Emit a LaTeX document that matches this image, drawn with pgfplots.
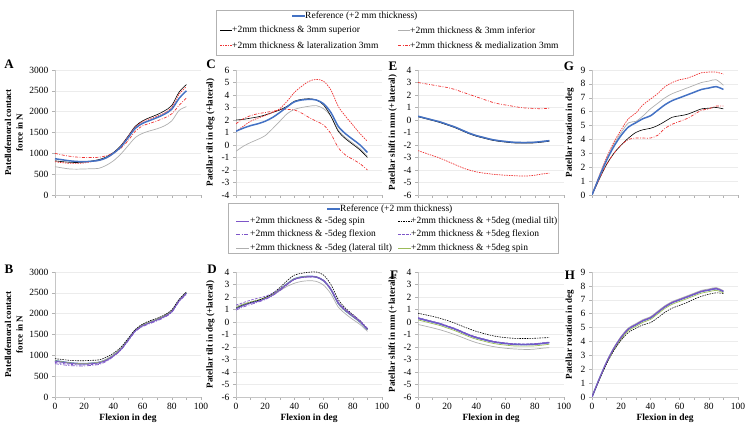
\documentclass[border=0pt]{standalone}
\usepackage{fontspec}
\setmainfont{Liberation Serif}
\usepackage{pgfplots}
\pgfplotsset{compat=1.18}
\usepackage{pgfplotstable}

\definecolor{refblue}{RGB}{68,114,196}
\definecolor{lgrey}{RGB}{175,175,175}
\definecolor{myred}{RGB}{238,50,50}
\definecolor{myviolet}{RGB}{125,85,200}
\definecolor{mygreen}{RGB}{155,187,89}

\tikzset{
  refst/.style={refblue, line width=1.5pt},
  supst/.style={black, line width=0.6pt},
  infst/.style={lgrey, line width=0.7pt},
  latst/.style={myred, line width=0.7pt, dash pattern=on 1.5pt off 1pt},
  medst/.style={myred, line width=0.7pt, dash pattern=on 3pt off 1.5pt on 0.8pt off 1.5pt},
  spmst/.style={myviolet, line width=0.7pt},
  mtst/.style={black, line width=0.6pt, dash pattern=on 1.5pt off 1pt},
  fmst/.style={myviolet, line width=0.7pt, dash pattern=on 4pt off 1.5pt on 1pt off 1.5pt},
  fpst/.style={myviolet, line width=0.7pt, dash pattern=on 2.5pt off 1.5pt},
  ltst/.style={lgrey, line width=0.7pt},
  sppst/.style={mygreen, line width=0.7pt},
}

\pgfplotsset{
  panel/.style={
    width=146pt, height=125pt, scale only axis, anchor=south west,
    xmin=0, xmax=100, xtick={0,20,...,100}, minor x tick num=1,
    axis lines=left, axis line style={-, draw=gray!45},
    tick style={gray!60, thin}, tick align=outside,
    major tick length=3pt, minor tick length=3pt,
    ymajorgrids, grid style={gray!15},
    ticklabel style={font=\fontsize{9.5}{10}\selectfont},
    /pgf/number format/assume math mode=true,
    /pgf/number format/1000 sep={},
    ylabel style={font=\bfseries\fontsize{9}{11.5}\selectfont, align=center},
    xlabel style={font=\bfseries\fontsize{9.5}{11}\selectfont, yshift=3pt},
    every axis plot/.append style={smooth, tension=0.5},
  },
  toprow/.style={xticklabels={}},
  botrow/.style={xlabel={Flexion in deg}},
}

\pgfplotstableread{
x ref sup inf lat med
0 870 820 680 800 1000
5 845 800 650 775 960
10 820 785 625 760 930
15 805 780 620 760 910
20 800 790 625 770 900
25 810 815 630 800 900
30 830 850 640 830 905
35 890 910 710 880 940
40 1000 1020 820 1000 1010
45 1150 1180 980 1170 1120
50 1370 1410 1180 1400 1300
55 1600 1650 1380 1630 1530
60 1720 1780 1480 1760 1660
65 1790 1860 1540 1830 1720
70 1860 1930 1590 1890 1780
75 1940 2020 1660 1970 1850
80 2060 2150 1780 2100 1950
85 2320 2470 2030 2420 2150
90 2500 2650 2120 2600 2330
}\tabA

\pgfplotstableread{
x ref sup inf lat med
0 1.1 2.0 -0.5 1.1 1.7
5 1.35 2.05 -0.1 1.5 2.1
10 1.55 2.15 0.2 1.9 2.35
15 1.7 2.25 0.45 2.15 2.5
20 1.9 2.4 0.75 2.35 2.6
25 2.2 2.6 1.3 2.6 2.7
30 2.6 2.8 1.9 2.9 2.8
35 3.05 3.1 2.5 3.5 2.85
40 3.45 3.5 2.85 4.2 2.8
45 3.6 3.65 3.0 4.7 2.55
50 3.65 3.7 3.1 5.1 2.2
55 3.6 3.6 3.15 5.25 1.9
60 3.3 3.2 2.9 5.1 1.6
65 2.6 2.3 2.3 4.4 0.9
70 1.5 1.1 1.2 3.1 -0.2
75 0.9 0.5 0.6 2.3 -0.8
80 0.45 0.05 0.15 1.6 -1.15
85 0.0 -0.4 -0.3 0.9 -1.5
90 -0.6 -1.0 -0.9 0.3 -2.0
}\tabC

\pgfplotstableread{
x ref sup inf lat med
0 0.3 0.26 0.32 -2.45 3.0
5 0.15 0.11 0.17 -2.65 2.9
10 0.0 -0.04 0.02 -2.85 2.8
15 -0.15 -0.2 -0.13 -3.05 2.7
20 -0.35 -0.4 -0.33 -3.3 2.6
25 -0.55 -0.6 -0.53 -3.55 2.45
30 -0.8 -0.85 -0.78 -3.8 2.25
35 -1.05 -1.1 -1.03 -4.0 2.05
40 -1.25 -1.3 -1.23 -4.15 1.85
45 -1.4 -1.45 -1.38 -4.25 1.65
50 -1.55 -1.6 -1.53 -4.32 1.45
55 -1.65 -1.7 -1.63 -4.38 1.3
60 -1.72 -1.77 -1.7 -4.42 1.2
65 -1.78 -1.83 -1.76 -4.45 1.1
70 -1.8 -1.85 -1.78 -4.48 1.0
75 -1.8 -1.85 -1.78 -4.48 0.95
80 -1.78 -1.83 -1.76 -4.42 0.92
85 -1.72 -1.77 -1.7 -4.32 0.9
90 -1.65 -1.7 -1.63 -4.25 0.95
}\tabE

\pgfplotstableread{
x ref sup inf lat med
0 0 0 0 0 0
5 1.3 1.15 1.35 1.4 1.15
10 2.5 2.2 2.6 2.7 2.2
15 3.5 3.0 3.65 3.8 3.0
20 4.3 3.6 4.5 4.7 3.6
25 4.9 4.1 5.2 5.5 4.0
30 5.2 4.5 5.3 5.9 4.1
35 5.5 4.7 5.7 6.5 4.1
40 5.7 4.8 6.2 6.9 4.1
45 6.1 5.0 6.6 7.3 4.3
50 6.5 5.3 7.0 7.8 4.8
55 6.8 5.6 7.3 8.1 5.1
60 7.0 5.7 7.5 8.3 5.3
65 7.2 5.8 7.7 8.4 5.5
70 7.4 6.0 7.9 8.6 5.8
75 7.6 6.2 8.1 8.8 6.1
80 7.7 6.25 8.2 8.85 6.2
85 7.8 6.3 8.3 8.85 6.4
90 7.6 6.2 7.9 8.7 6.4
}\tabG

\pgfplotstableread{
x ref sm5 mt fm5 fp5 lt sp5
0 870 860 920 800 830 860 870
5 845 835 900 775 805 835 845
10 820 810 880 755 785 815 820
15 805 795 870 745 770 800 805
20 800 790 870 745 770 800 800
25 810 800 880 760 780 810 810
30 830 820 890 780 800 835 830
35 890 880 950 850 870 900 890
40 1000 990 1050 970 980 1010 1000
45 1150 1140 1190 1120 1130 1160 1150
50 1370 1360 1400 1340 1350 1380 1370
55 1600 1590 1620 1570 1590 1610 1600
60 1720 1710 1750 1690 1710 1740 1720
65 1790 1780 1830 1760 1780 1810 1790
70 1860 1850 1890 1830 1850 1880 1860
75 1940 1930 1970 1910 1930 1960 1940
80 2060 2050 2090 2030 2050 2080 2060
85 2320 2310 2340 2290 2310 2340 2320
90 2500 2490 2520 2460 2490 2520 2500
}\tabB

\pgfplotstableread{
x ref sm5 mt fm5 fp5 lt sp5
0 1.1 1.05 1.1 0.95 1.35 1.25 1.15
5 1.35 1.3 1.35 1.2 1.55 1.45 1.4
10 1.55 1.5 1.55 1.4 1.75 1.6 1.6
15 1.7 1.65 1.72 1.58 1.9 1.75 1.75
20 1.9 1.85 1.95 1.8 2.05 1.9 1.95
25 2.2 2.15 2.28 2.1 2.3 2.15 2.22
30 2.6 2.55 2.75 2.5 2.65 2.5 2.6
35 3.05 3.0 3.3 2.98 3.05 2.85 3.05
40 3.45 3.42 3.75 3.4 3.4 3.1 3.45
45 3.6 3.58 3.9 3.55 3.55 3.25 3.6
50 3.65 3.63 3.98 3.6 3.6 3.3 3.65
55 3.6 3.6 4.0 3.6 3.58 3.25 3.6
60 3.3 3.3 3.75 3.35 3.3 2.95 3.3
65 2.6 2.6 3.0 2.65 2.6 2.25 2.6
70 1.5 1.55 1.8 1.6 1.5 1.2 1.5
75 0.9 0.95 1.1 1.0 0.9 0.65 0.9
80 0.45 0.5 0.6 0.55 0.45 0.2 0.45
85 0.0 0.05 0.1 0.1 0.0 -0.2 0.0
90 -0.6 -0.55 -0.55 -0.5 -0.6 -0.75 -0.6
}\tabD

\pgfplotstableread{
x ref sm5 mt fm5 fp5 lt sp5
0 0.3 0.32 0.7 0.27 0.35 -0.2 0.17
5 0.15 0.17 0.58 0.12 0.2 -0.33 0.02
10 0.0 0.02 0.45 -0.03 0.05 -0.47 -0.13
15 -0.15 -0.13 0.3 -0.18 -0.1 -0.62 -0.28
20 -0.35 -0.33 0.12 -0.38 -0.3 -0.8 -0.48
25 -0.55 -0.53 -0.08 -0.58 -0.5 -1.0 -0.68
30 -0.8 -0.78 -0.32 -0.83 -0.75 -1.22 -0.93
35 -1.05 -1.03 -0.55 -1.08 -1.0 -1.45 -1.18
40 -1.25 -1.23 -0.75 -1.28 -1.2 -1.65 -1.38
45 -1.4 -1.38 -0.92 -1.43 -1.35 -1.8 -1.53
50 -1.55 -1.53 -1.07 -1.58 -1.5 -1.93 -1.68
55 -1.65 -1.63 -1.18 -1.68 -1.6 -2.03 -1.78
60 -1.72 -1.7 -1.25 -1.75 -1.67 -2.1 -1.85
65 -1.78 -1.76 -1.3 -1.81 -1.73 -2.15 -1.91
70 -1.8 -1.78 -1.32 -1.83 -1.75 -2.18 -1.93
75 -1.8 -1.78 -1.32 -1.83 -1.75 -2.2 -1.93
80 -1.78 -1.76 -1.3 -1.81 -1.73 -2.17 -1.91
85 -1.72 -1.7 -1.27 -1.75 -1.67 -2.1 -1.85
90 -1.65 -1.63 -1.25 -1.68 -1.6 -2.05 -1.78
}\tabF

\pgfplotstableread{
x ref sm5 mt fm5 fp5 lt sp5
0 0 0 0 0 0 0 0
5 1.3 1.32 1.25 1.3 1.28 1.33 1.25
10 2.5 2.52 2.4 2.5 2.48 2.55 2.42
15 3.5 3.52 3.35 3.5 3.48 3.56 3.4
20 4.3 4.32 4.1 4.3 4.28 4.38 4.18
25 4.9 4.92 4.65 4.9 4.88 4.98 4.78
30 5.2 5.22 4.95 5.2 5.18 5.28 5.08
35 5.5 5.52 5.2 5.5 5.48 5.58 5.38
40 5.7 5.72 5.35 5.7 5.68 5.78 5.58
45 6.1 6.12 5.7 6.1 6.08 6.18 5.98
50 6.5 6.52 6.1 6.5 6.48 6.58 6.38
55 6.8 6.82 6.4 6.8 6.78 6.88 6.68
60 7.0 7.02 6.6 7.0 6.98 7.08 6.88
65 7.2 7.22 6.8 7.2 7.18 7.28 7.08
70 7.4 7.42 7.05 7.4 7.38 7.48 7.28
75 7.6 7.62 7.25 7.6 7.58 7.68 7.48
80 7.7 7.72 7.4 7.7 7.68 7.78 7.58
85 7.8 7.82 7.5 7.8 7.78 7.88 7.68
90 7.6 7.62 7.45 7.6 7.58 7.66 7.5
}\tabH

\begin{document}
\begin{tikzpicture}
\useasboundingbox (0,0) rectangle (749pt,425pt);

% ---------- top row ----------
\begin{axis}[panel, toprow, at={(55pt,230pt)}, ymin=0, ymax=3000, ytick={0,500,...,3000},
  ylabel={Patellofemoral contact\\force in N}]
\addplot[infst] table[x=x,y=inf]{\tabA};
\addplot[supst] table[x=x,y=sup]{\tabA};
\addplot[latst] table[x=x,y=lat]{\tabA};
\addplot[medst] table[x=x,y=med]{\tabA};
\addplot[refst] table[x=x,y=ref]{\tabA};
\end{axis}

\begin{axis}[panel, toprow, at={(236pt,230pt)}, ymin=-4, ymax=6, ytick={-4,-3,...,6},
  ylabel={Patellar tilt in deg (+lateral)}]
\addplot[infst] table[x=x,y=inf]{\tabC};
\addplot[supst] table[x=x,y=sup]{\tabC};
\addplot[latst] table[x=x,y=lat]{\tabC};
\addplot[medst] table[x=x,y=med]{\tabC};
\addplot[refst] table[x=x,y=ref]{\tabC};
\end{axis}

\begin{axis}[panel, toprow, at={(418pt,230pt)}, ymin=-6, ymax=4, ytick={-6,-5,...,4},
  ylabel={Patellar shift in mm (+lateral)}]
\addplot[infst] table[x=x,y=inf]{\tabE};
\addplot[supst] table[x=x,y=sup]{\tabE};
\addplot[latst] table[x=x,y=lat]{\tabE};
\addplot[medst] table[x=x,y=med]{\tabE};
\addplot[refst] table[x=x,y=ref]{\tabE};
\end{axis}

\begin{axis}[panel, toprow, at={(592pt,230pt)}, ymin=0, ymax=9, ytick={0,1,...,9},
  ylabel={Patellar rotation in deg}]
\addplot[infst] table[x=x,y=inf]{\tabG};
\addplot[supst] table[x=x,y=sup]{\tabG};
\addplot[latst] table[x=x,y=lat]{\tabG};
\addplot[medst] table[x=x,y=med]{\tabG};
\addplot[refst] table[x=x,y=ref]{\tabG};
\end{axis}

% ---------- bottom row ----------
\begin{axis}[panel, botrow, at={(55pt,28pt)}, ymin=0, ymax=3000, ytick={0,500,...,3000},
  ylabel={Patellofemoral contact\\force in N}]
\addplot[refst] table[x=x,y=ref]{\tabB};
\addplot[ltst] table[x=x,y=lt]{\tabB};
\addplot[sppst] table[x=x,y=sp5]{\tabB};
\addplot[mtst] table[x=x,y=mt]{\tabB};
\addplot[spmst] table[x=x,y=sm5]{\tabB};
\addplot[fmst] table[x=x,y=fm5]{\tabB};
\addplot[fpst] table[x=x,y=fp5]{\tabB};
\end{axis}

\begin{axis}[panel, botrow, at={(236pt,28pt)}, ymin=-6, ymax=4, ytick={-6,-5,...,4},
  ylabel={Patellar tilt in deg (+lateral)}]
\addplot[refst] table[x=x,y=ref]{\tabD};
\addplot[ltst] table[x=x,y=lt]{\tabD};
\addplot[sppst] table[x=x,y=sp5]{\tabD};
\addplot[mtst] table[x=x,y=mt]{\tabD};
\addplot[spmst] table[x=x,y=sm5]{\tabD};
\addplot[fmst] table[x=x,y=fm5]{\tabD};
\addplot[fpst] table[x=x,y=fp5]{\tabD};
\end{axis}

\begin{axis}[panel, botrow, at={(418pt,28pt)}, ymin=-6, ymax=4, ytick={-6,-5,...,4},
  ylabel={Patellar shift in mm (+lateral)}]
\addplot[refst] table[x=x,y=ref]{\tabF};
\addplot[ltst] table[x=x,y=lt]{\tabF};
\addplot[sppst] table[x=x,y=sp5]{\tabF};
\addplot[mtst] table[x=x,y=mt]{\tabF};
\addplot[spmst] table[x=x,y=sm5]{\tabF};
\addplot[fmst] table[x=x,y=fm5]{\tabF};
\addplot[fpst] table[x=x,y=fp5]{\tabF};
\end{axis}

\begin{axis}[panel, botrow, at={(592pt,28pt)}, ymin=0, ymax=9, ytick={0,1,...,9},
  ylabel={Patellar rotation in deg}]
\addplot[refst] table[x=x,y=ref]{\tabH};
\addplot[ltst] table[x=x,y=lt]{\tabH};
\addplot[sppst] table[x=x,y=sp5]{\tabH};
\addplot[mtst] table[x=x,y=mt]{\tabH};
\addplot[spmst] table[x=x,y=sm5]{\tabH};
\addplot[fmst] table[x=x,y=fm5]{\tabH};
\addplot[fpst] table[x=x,y=fp5]{\tabH};
\end{axis}

% ---------- panel letters ----------
\begin{scope}[every node/.style={font=\bfseries\fontsize{13}{14}\selectfont, inner sep=0pt}]
\node at (9pt,361pt) {A};
\node at (211pt,361pt) {C};
\node at (393pt,359pt) {E};
\node at (569pt,359pt) {G};
\node at (9pt,156pt) {B};
\node at (212pt,156pt) {D};
\node at (394pt,150pt) {F};
\node at (570pt,150pt) {H};
\end{scope}

% ---------- legends ----------
\begin{scope}[every node/.style={font=\fontsize{9.5}{11}\selectfont, inner sep=0pt, anchor=west}]
\draw[gray!60, fill=white] (216pt,415pt) rectangle (573pt,370pt);
\draw[refst, line width=1.2pt] (292pt,409pt) -- ++(13pt,0); \node at (305pt,409pt) {Reference (+2 mm thickness)};
\draw[supst] (220pt,395pt) -- ++(12pt,0); \node at (232pt,395pt) {+2mm thickness \& 3mm superior};
\draw[infst] (398pt,395pt) -- ++(12pt,0); \node at (410pt,395pt) {+2mm thickness \& 3mm inferior};
\draw[latst] (220pt,380pt) -- ++(12pt,0); \node at (232pt,380pt) {+2mm thickness \& lateralization 3mm};
\draw[medst] (398pt,380pt) -- ++(12pt,0); \node at (410pt,380pt) {+2mm thickness \& medialization 3mm};

\draw[gray!60, fill=white] (228pt,222pt) rectangle (558pt,172pt);
\draw[refst, line width=1.2pt] (327pt,216pt) -- ++(13pt,0); \node at (340pt,216pt) {Reference (+2 mm thickness)};
\draw[spmst] (236pt,204pt) -- ++(13pt,0); \node at (250pt,204pt) {+2mm thickness \& -5deg spin};
\draw[mtst] (398pt,204pt) -- ++(13pt,0); \node at (411pt,204pt) {+2mm thickness \& +5deg (medial tilt)};
\draw[fmst] (236pt,191pt) -- ++(13pt,0); \node at (250pt,191pt) {+2mm thickness \& -5deg flexion};
\draw[fpst] (398pt,191pt) -- ++(13pt,0); \node at (411pt,191pt) {+2mm thickness \& +5deg flexion};
\draw[ltst] (236pt,177pt) -- ++(13pt,0); \node at (250pt,177pt) {+2mm thickness \& -5deg (lateral tilt)};
\draw[sppst] (398pt,177pt) -- ++(13pt,0); \node at (411pt,177pt) {+2mm thickness \& +5deg spin};
\end{scope}
\end{tikzpicture}
\end{document}
